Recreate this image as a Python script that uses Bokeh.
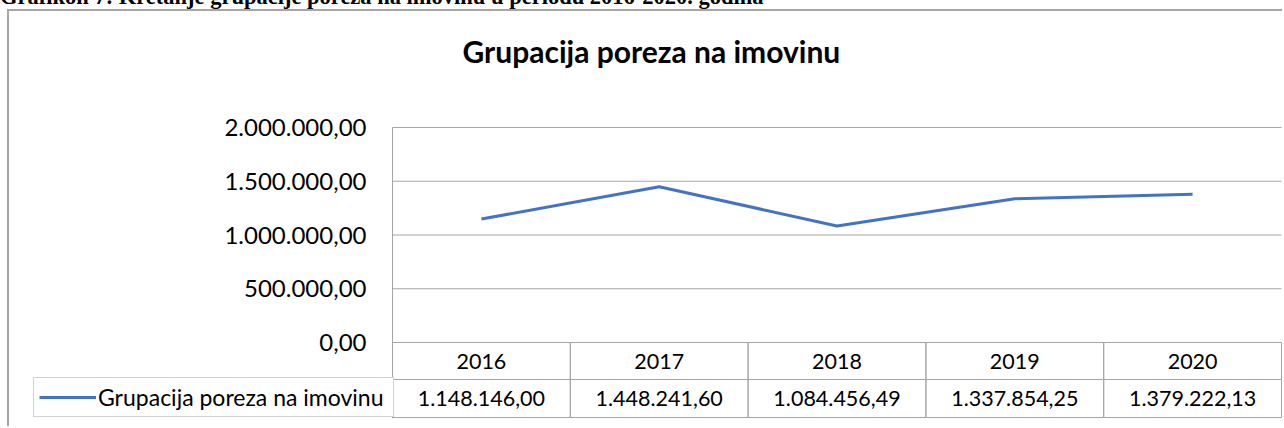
from bokeh.plotting import figure
from bokeh.models import (Range1d, FixedTicker, CustomJSTickFormatter, LinearAxis,
                          Legend, LegendItem, Div, Title)
from bokeh.layouts import column
from bokeh.core.properties import value
from bokeh.embed import file_html
from bokeh.resources import INLINE

# ---- data ----
years = ["2016", "2017", "2018", "2019", "2020"]
values = [1148146.00, 1448241.60, 1084456.49, 1337854.25, 1379222.13]
series_name = "Grupacija poreza na imovinu"
chart_title = "Grupacija poreza na imovinu"
heading = "Grafikon 7: Kretanje grupacije poreza na imovinu u periodu 2016-2020. godina"
y_ticks = [0, 500000, 1000000, 1500000, 2000000]
y_max = 2000000


def fmt(v):
    s = f"{v:,.2f}"
    return s.replace(",", "X").replace(".", ",").replace("X", ".")


value_labels = [fmt(v) for v in values]
xs = list(range(len(years)))

# ---- layout (page pixels) ----
HEAD_H = 9
BORDER = 2
MARGIN_L = 7
OX, OY = MARGIN_L + BORDER, HEAD_H + BORDER     # canvas origin on page
W, H = 1284 - OX, 428 - OY
FL, FR, FT, FB = 32, 1283, 100, 418             # frame
COL_L, COL_R = 392, 1281                        # plot / table columns
Y2M = 127       # top gridline
Y0 = 342        # zero line / table top
ROW_SPLIT = 379
TB = 417        # table bottom
LEG_L = 33
TITLE_BOTTOM = 67

FONT = "Lato"
GRID = "#a6a6a6"
LINE = "#4472C4"

CW = (COL_R - COL_L) / len(years)
x_start = -0.5 - (COL_L - FL) / CW
x_end = len(years) - 0.5 + (FR - COL_R) / CW
y_start = -(FB - Y0) / (Y0 - Y2M) * y_max
y_end = (Y0 - FT) / (Y0 - Y2M) * y_max

p = figure(width=W, height=H, output_backend="svg", toolbar_location=None,
           x_range=Range1d(x_start, x_end), y_range=Range1d(y_start, y_end),
           x_axis_location=None, y_axis_location=None,
           min_border_left=FL - OX, min_border_right=(OX + W) - FR,
           min_border_top=FT - OY, min_border_bottom=(OY + H) - FB)
p.extra_y_ranges = {"table": Range1d(0, FB - FT)}
p.margin = (0, 0, 0, MARGIN_L)
p.styles = {"border-left": f"{BORDER}px solid {GRID}", "border-top": f"{BORDER}px solid {GRID}"}
p.outline_line_color = None
p.background_fill_color = "white"
p.border_fill_color = "white"
p.xgrid.visible = False
p.ygrid.visible = False

# y axis drawn at the left edge of the plot columns
ticker = FixedTicker(ticks=y_ticks)
yaxis = LinearAxis(ticker=ticker, fixed_location=-0.5, bounds=(y_start, y_max))
yaxis.formatter = CustomJSTickFormatter(code="""
const s = tick.toFixed(2).split('.');
return s[0].replace(/\\B(?=(\\d{3})+(?!\\d))/g, '.') + ',' + s[1];
""")
yaxis.major_tick_line_color = None
yaxis.minor_tick_line_color = None
yaxis.axis_line_color = GRID
yaxis.axis_line_width = 1
yaxis.major_label_standoff = 20
yaxis.major_label_text_font = FONT
yaxis.major_label_text_font_size = "24px"
yaxis.major_label_text_color = "#000000"
p.add_layout(yaxis, "left")

# horizontal gridlines across the plot columns
p.segment(x0=[-0.5] * len(y_ticks), x1=[len(years) - 0.5] * len(y_ticks),
          y0=y_ticks, y1=y_ticks, line_color=GRID, line_width=1)

# data table cells
year_c = FB - (Y0 + ROW_SPLIT) / 2
val_c = FB - (ROW_SPLIT + TB) / 2
p.rect(x=xs, y=[year_c] * len(xs), width=1, height=ROW_SPLIT - Y0,
       y_range_name="table", fill_color=None, line_color=GRID, line_width=1)
p.rect(x=xs, y=[val_c] * len(xs), width=1, height=TB - ROW_SPLIT,
       y_range_name="table", fill_color=None, line_color=GRID, line_width=1)
p.text(x=xs, y=[year_c] * len(xs), text=years, y_range_name="table",
       text_align="center", text_baseline="middle", text_font=value(FONT),
       text_font_size="21.5px", text_color="#000000")
p.text(x=xs, y=[val_c] * len(xs), text=value_labels, y_range_name="table",
       text_align="center", text_baseline="middle", text_font=value(FONT),
       text_font_size="21.5px", text_color="#000000")

# series line
r = p.line(x=xs, y=values, line_color=LINE, line_width=3)

legend = Legend(items=[LegendItem(label=series_name, renderers=[r])],
                location=(LEG_L - FL, FB - TB))
legend.padding = 5
legend.spacing = 0
legend.margin = 0
legend.glyph_width = 57
legend.glyph_height = 20
legend.label_standoff = 2
legend.label_width = 290
legend.label_height = 20
legend.label_text_font = FONT
legend.label_text_font_size = "23px"
legend.label_text_color = "#000000"
legend.border_line_color = GRID
legend.border_line_width = 1
legend.background_fill_color = "white"
legend.background_fill_alpha = 1
p.add_layout(legend)

# chart title, lifted above the plot by an empty spacer title
spacer = Title(text=" ", text_font_size="1px", standoff=(FT - TITLE_BOTTOM) - 4)
p.add_layout(spacer, "above")
p.add_layout(Title(text=chart_title, align="left", offset=462 - FL, standoff=0,
                   text_font=FONT, text_font_style="bold", text_font_size="30px",
                   text_color="#000000"), "above")

head = Div(text=(f'<div style="position:relative;top:-13px;font-family:\'Liberation Serif\';'
                 f'font-weight:bold;font-size:22.5px;line-height:20px;white-space:nowrap;'
                 f'color:#000000">{heading}</div>'),
           width=1284, height=HEAD_H, margin=0, styles={"overflow": "hidden"})

layout = column(head, p, spacing=0)
open("out.html", "w").write(file_html(layout, INLINE))
